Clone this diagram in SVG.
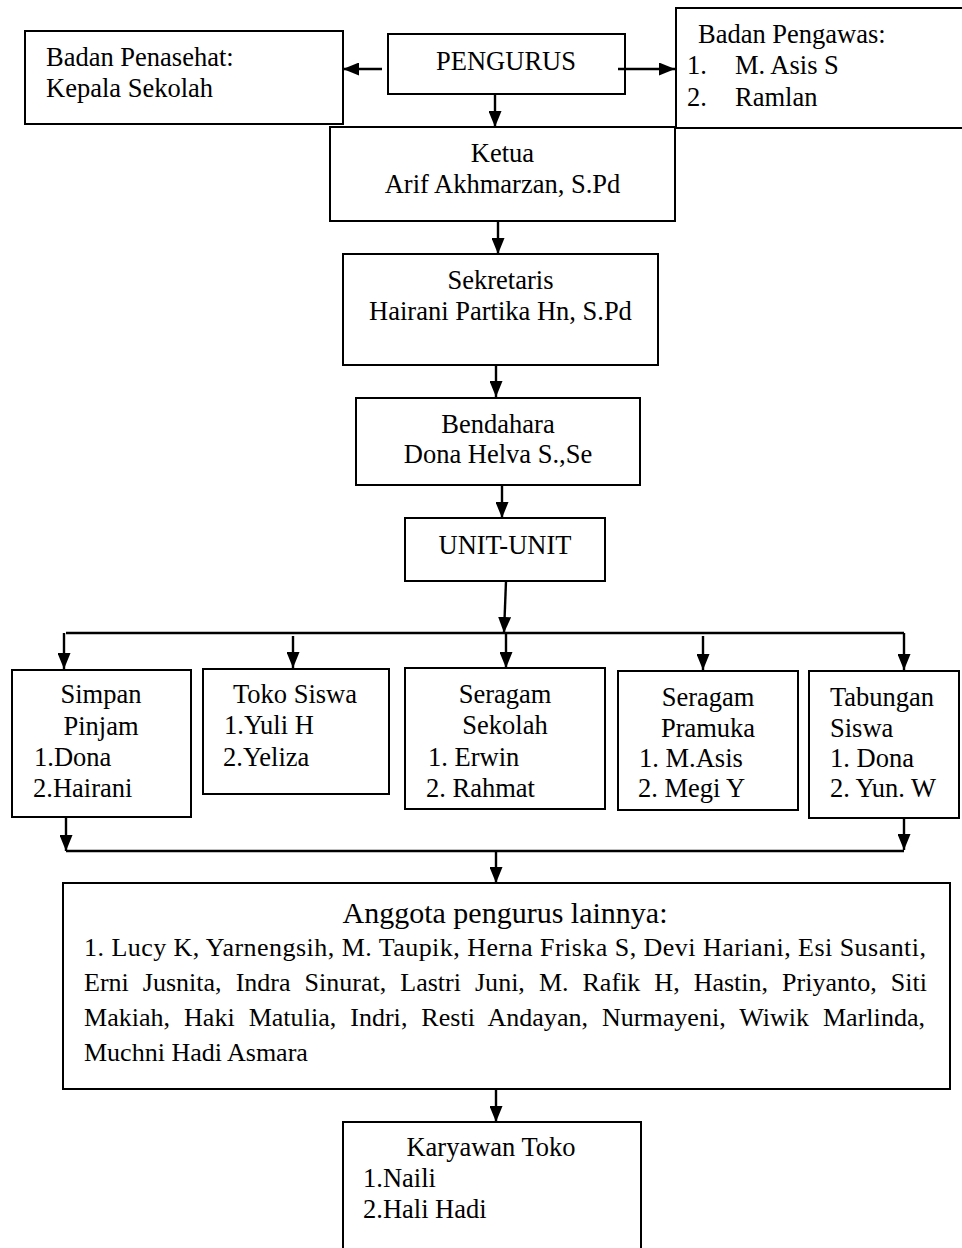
<svg xmlns="http://www.w3.org/2000/svg" width="962" height="1248" viewBox="0 0 962 1248">
<style>
.box{fill:#fff;stroke:#000;stroke-width:2}
text{font-family:"Liberation Serif","Times New Roman",serif;font-size:26.5px;fill:#000}
.c{text-anchor:middle}
.conn line{stroke:#000;stroke-width:2.4}
.l{font-size:26px}
.t{font-size:30px}
</style>
<defs>
<marker id="ah" markerUnits="userSpaceOnUse" markerWidth="16" markerHeight="13" refX="16" refY="6.5" orient="auto">
<path d="M0,0 L16,6.5 L0,13 Z" fill="#000"/>
</marker>
</defs>
<rect width="962" height="1248" fill="#fff"/>

<g id="penasehat">
<rect class="box" x="25" y="31" width="318" height="93"/>
<text x="46" y="66">Badan Penasehat:</text>
<text x="46" y="97">Kepala Sekolah</text>
</g>
<g id="pengurus">
<rect class="box" x="388" y="34" width="237" height="60"/>
<text class="c" x="506" y="70">PENGURUS</text>
</g>
<g id="pengawas">
<rect class="box" x="676" y="8" width="300" height="120"/>
<text x="698" y="43">Badan Pengawas:</text>
<text x="687" y="74">1.</text><text x="735" y="74">M. Asis S</text>
<text x="687" y="106">2.</text><text x="735" y="106">Ramlan</text>
</g>
<g id="ketua">
<rect class="box" x="330" y="127" width="345" height="94"/>
<text class="c" x="502.5" y="162">Ketua</text>
<text class="c" x="502.5" y="193">Arif Akhmarzan, S.Pd</text>
</g>
<g id="sekretaris">
<rect class="box" x="343" y="254" width="315" height="111"/>
<text class="c" x="500.5" y="289">Sekretaris</text>
<text class="c" x="500.5" y="320">Hairani Partika Hn, S.Pd</text>
</g>
<g id="bendahara">
<rect class="box" x="356" y="398" width="284" height="87"/>
<text class="c" x="498" y="433">Bendahara</text>
<text class="c" x="498" y="463">Dona Helva S.,Se</text>
</g>
<g id="unit">
<rect class="box" x="405" y="518" width="200" height="63"/>
<text class="c" x="505" y="554">UNIT-UNIT</text>
</g>
<g id="simpan">
<rect class="box" x="12" y="670" width="179" height="147"/>
<text class="c" x="101" y="703">Simpan</text>
<text class="c" x="101" y="735">Pinjam</text>
<text x="34" y="766">1.Dona</text>
<text x="33" y="797">2.Hairani</text>
</g>
<g id="toko">
<rect class="box" x="203" y="669" width="186" height="125"/>
<text class="c" x="295" y="703">Toko Siswa</text>
<text x="224" y="734">1.Yuli H</text>
<text x="223" y="766">2.Yeliza</text>
</g>
<g id="seragam-sekolah">
<rect class="box" x="405" y="668" width="200" height="141"/>
<text class="c" x="505" y="703">Seragam</text>
<text class="c" x="505" y="734">Sekolah</text>
<text x="428" y="766">1. Erwin</text>
<text x="426" y="797">2. Rahmat</text>
</g>
<g id="seragam-pramuka">
<rect class="box" x="618" y="671" width="180" height="139"/>
<text class="c" x="708" y="706">Seragam</text>
<text class="c" x="708" y="737">Pramuka</text>
<text x="639" y="767">1. M.Asis</text>
<text x="638" y="797">2. Megi Y</text>
</g>
<g id="tabungan">
<rect class="box" x="809" y="671" width="150" height="147"/>
<text x="830" y="706">Tabungan</text>
<text x="830" y="737">Siswa</text>
<text x="830" y="767">1. Dona</text>
<text x="830" y="797">2. Yun. W</text>
</g>
<g id="anggota">
<rect class="box" x="63" y="883" width="887" height="206"/>
<text class="c t" x="505" y="923">Anggota pengurus lainnya:</text>
<text class="l" x="84" y="956" textLength="842" lengthAdjust="spacing">1. Lucy K, Yarnengsih, M. Taupik, Herna Friska S, Devi Hariani, Esi Susanti,</text>
<text class="l" x="84" y="991" word-spacing="7.5" textLength="843" lengthAdjust="spacing">Erni Jusnita, Indra Sinurat, Lastri Juni, M. Rafik H, Hastin, Priyanto, Siti</text>
<text class="l" x="84" y="1026" word-spacing="7.4" textLength="841" lengthAdjust="spacing">Makiah, Haki Matulia, Indri, Resti Andayan, Nurmayeni, Wiwik Marlinda,</text>
<text class="l" x="84" y="1061">Muchni Hadi Asmara</text>
</g>
<g id="karyawan">
<rect class="box" x="343" y="1122" width="298" height="140"/>
<text class="c" x="491" y="1156">Karyawan Toko</text>
<text x="363" y="1187">1.Naili</text>
<text x="363" y="1218">2.Hali Hadi</text>
</g>

<g id="connectors" class="conn">
<line x1="382" y1="69" x2="343" y2="69" marker-end="url(#ah)"/>
<line x1="618" y1="69" x2="675" y2="69" marker-end="url(#ah)"/>
<line x1="495" y1="94" x2="495" y2="127" marker-end="url(#ah)"/>
<line x1="498" y1="221" x2="498" y2="254" marker-end="url(#ah)"/>
<line x1="496" y1="365" x2="496" y2="397" marker-end="url(#ah)"/>
<line x1="502" y1="485" x2="502" y2="518" marker-end="url(#ah)"/>
<line x1="506" y1="581" x2="504" y2="633" marker-end="url(#ah)"/>
<line x1="66" y1="633" x2="904" y2="633"/>
<line x1="64" y1="633" x2="64" y2="669" marker-end="url(#ah)"/>
<line x1="293" y1="636" x2="293" y2="668" marker-end="url(#ah)"/>
<line x1="506" y1="633" x2="506" y2="668" marker-end="url(#ah)"/>
<line x1="703" y1="636" x2="703" y2="670" marker-end="url(#ah)"/>
<line x1="904" y1="633" x2="904" y2="670" marker-end="url(#ah)"/>
<line x1="66" y1="817" x2="66" y2="851" marker-end="url(#ah)"/>
<line x1="904" y1="818" x2="904" y2="850" marker-end="url(#ah)"/>
<line x1="66" y1="851" x2="904" y2="851"/>
<line x1="496" y1="851" x2="496" y2="883" marker-end="url(#ah)"/>
<line x1="496" y1="1089" x2="496" y2="1122" marker-end="url(#ah)"/>
</g>
</svg>
